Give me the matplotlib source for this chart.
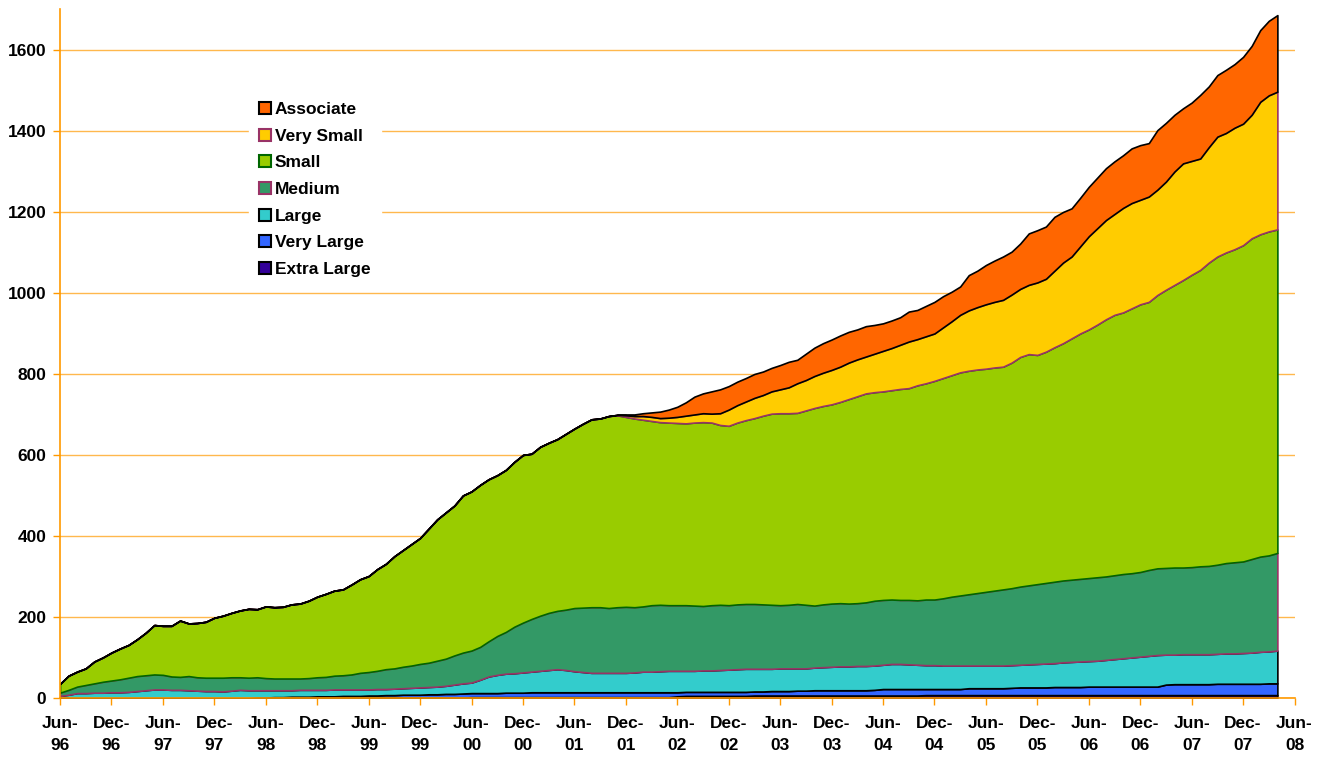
import matplotlib
matplotlib.use("Agg")
import matplotlib.pyplot as plt
from matplotlib.patches import Patch

plt.rcParams['font.family'] = ['Liberation Sans', 'DejaVu Sans']
plt.rcParams['font.weight'] = 'bold'

# monthly, Jun-96 .. Apr-08 (143 months)
extra_large = [0]*23 + [1]*25 + [2]*24 + [4] + [5]*8 + [6]*20 + [7]*42

very_large = ([0]*23 +
    [0, 0, 1, 1, 2, 2, 2, 3, 3, 3, 4, 4,
     4, 5, 5, 6, 6, 7, 7, 7, 8, 8, 9, 9,
     10, 10, 10, 10, 10, 11, 11, 11, 12, 12, 12, 12,
     12, 12, 12, 12, 12, 12, 12, 12, 12, 12, 12, 12,
     12, 10, 10, 10, 10, 10, 10, 10, 10, 10, 10, 10,
     11, 11, 11, 12, 12, 13, 13, 13, 13, 13, 13, 13,
     14, 16, 16, 16, 16, 16, 15, 15, 15, 15, 15, 17,
     17, 17, 17, 17, 18, 19, 19, 19, 19, 20, 20, 20,
     20, 21, 21, 21, 21, 21, 21, 21, 21, 21, 26, 27,
     27, 27, 27, 27, 28, 28, 28, 28, 28, 28, 29, 29])

large = [5, 8, 12, 12, 13, 13, 14, 14, 15, 17, 19, 21,
         21, 20, 20, 19, 18, 17, 17, 16, 18, 20, 19, 18,
         18, 17, 17, 16, 17, 17, 16, 16, 17, 16, 16, 16,
         15, 16, 15, 16, 16, 17, 18, 18, 19, 20, 23, 25,
         26, 33, 41, 45, 47, 48, 50, 51, 53, 55, 57, 55,
         52, 50, 48, 48, 48, 48, 48, 49, 51, 51, 52, 53,
         53, 52, 52, 53, 53, 54, 55, 56, 57, 56, 56, 55,
         56, 56, 55, 55, 56, 57, 58, 59, 59, 60, 60, 60,
         60, 62, 62, 61, 60, 59, 59, 58, 58, 58, 56, 56,
         56, 56, 56, 56, 56, 57, 58, 59, 59, 61, 62, 63,
         63, 64, 66, 68, 70, 72, 74, 76, 78, 74, 73, 74,
         74, 74, 74, 74, 75, 75, 76, 77, 79, 79, 81]

medium = [8, 12, 16, 20, 23, 27, 29, 32, 35, 37, 37, 37,
          36, 33, 32, 35, 33, 33, 33, 34, 33, 31, 31, 32,
          30, 29, 29, 29, 28, 29, 31, 32, 34, 35, 37, 41,
          43, 45, 49, 50, 53, 55, 58, 60, 64, 67, 72, 76,
          79, 81, 87, 96, 103, 115, 123, 130, 136, 141, 144, 149,
          156, 159, 162, 162, 160, 162, 163, 161, 161, 164, 164, 162,
          162, 162, 161, 159, 161, 161, 159, 160, 160, 160, 159, 158,
          156, 157, 159, 157, 153, 155, 156, 156, 155, 155, 157, 160,
          160, 159, 158, 159, 159, 162, 162, 166, 170, 173, 176, 179,
          182, 185, 188, 190, 193, 195, 197, 199, 201, 202, 203, 204,
          205, 206, 206, 207, 208, 208, 209, 212, 214, 214, 215, 214,
          215, 217, 218, 220, 223, 225, 226, 231, 235, 237, 241]

small = [22, 35, 37, 41, 54, 60, 69, 76, 81, 91, 105, 122,
         121, 125, 139, 130, 134, 138, 148, 153, 159, 165, 170, 168,
         177, 176, 177, 183, 185, 191, 199, 205, 210, 212, 222, 231,
         237, 251, 260, 277, 288, 300, 311, 331, 349, 361, 370, 388,
         393, 400, 400, 397, 400, 407, 414, 408, 417, 420, 424, 434,
         443, 454, 464, 466, 474, 474, 469, 466, 461, 455, 451, 451,
         450, 449, 452, 454, 451, 444, 443, 449, 454, 459, 466, 472,
         474, 473, 472, 480, 488, 490, 492, 497, 505, 511, 516, 515,
         515, 517, 521, 523, 531, 534, 540, 544, 547, 551, 552, 552,
         551, 551, 550, 557, 567, 571, 566, 571, 579, 586, 596, 606,
         614, 624, 635, 643, 646, 654, 661, 662, 675, 687, 698, 710,
         722, 732, 749, 761, 767, 773, 781, 792, 796, 800, 799]

very_small = ([0]*65 +
    [1, 4, 6, 9, 10, 10, 12,
     15, 19, 20, 22, 22, 29, 40, 43, 46, 50, 51, 55,
     59, 64, 73, 75, 79, 82, 85, 87, 90, 91, 91, 95,
     100, 104, 109, 115, 114, 116, 117, 125, 133, 142, 149, 154,
     159, 162, 165, 168, 168, 171, 179, 180, 189, 199, 202, 215,
     230, 238, 245, 249, 258, 260, 258, 260, 260, 267, 280, 288,
     281, 275, 285, 296, 295, 300, 300, 305, 327, 336, 340])

associate = ([0]*66 +
    [2, 4, 7, 11, 16, 20,
     25, 33, 44, 49, 55, 59, 58, 58, 58, 59, 58, 58,
     60, 63, 58, 65, 70, 73, 75, 77, 76, 74, 75, 71,
     68, 68, 68, 74, 72, 75, 78, 77, 73, 70, 87, 90,
     97, 102, 107, 106, 112, 127, 129, 129, 133, 125, 119, 120,
     122, 125, 128, 130, 130, 135, 135, 132, 147, 145, 140, 136,
     144, 157, 150, 152, 156, 157, 165, 170, 177, 184, 189])

names = ['Extra Large', 'Very Large', 'Large', 'Medium', 'Small', 'Very Small', 'Associate']
series = [extra_large, very_large, large, medium, small, very_small, associate]
fills = ['#330099', '#3366FF', '#33CCCC', '#339966', '#99CC00', '#FFCC00', '#FF6600']
edges = ['black', 'black', 'black', '#993366', '#006600', '#993366', 'black']

tick_labels = []
for yr in range(96, 109):
    yy = yr % 100
    tick_labels.append('Jun-\n%02d' % yy)
    if yr < 108:
        tick_labels.append('Dec-\n%02d' % yy)

months = list(range(len(small)))

fig = plt.figure(figsize=(13.25, 7.57), dpi=100)
ax = fig.add_axes([0.0453, 0.078, 0.9317, 0.9095])

polys = ax.stackplot(months, *series, colors=fills, zorder=2)
for p, ec in zip(polys, edges):
    p.set_edgecolor(ec)
    p.set_linewidth(1.2)

ax.set_xlim(0, 144)
ax.set_ylim(0, 1700)
ax.set_yticks(range(0, 1601, 200))
ax.set_xticks(range(0, 145, 6))
ax.set_xticklabels(tick_labels, linespacing=1.6)
ax.tick_params(axis='both', colors='#FF9900', labelcolor='black', labelsize=12.5, length=5, width=1)
ax.tick_params(axis='x', pad=8)
ax.tick_params(axis='y', pad=5)
ax.grid(axis='y', color='#FFB84D', linewidth=1, zorder=0)
ax.set_axisbelow(True)
for s in ['top', 'right']:
    ax.spines[s].set_visible(False)
for s in ['left', 'bottom']:
    ax.spines[s].set_color('#FF9900')
    ax.spines[s].set_linewidth(1.2)
    ax.spines[s].set_zorder(3)

handles = [Patch(facecolor=f, edgecolor=e, linewidth=1.5) for f, e in zip(fills, edges)]
leg = ax.legend(handles[::-1], names[::-1], loc='upper left',
                bbox_to_anchor=(240 / 1325, 1 - 83 / 757), bbox_transform=fig.transFigure,
                frameon=True, fancybox=False, framealpha=1, edgecolor='white',
                fontsize=12.5, handlelength=0.7, handleheight=0.7, handletextpad=0.2,
                labelspacing=0.66, borderpad=0.6)
leg.set_zorder(5)

fig.savefig('out.png', dpi=100)
